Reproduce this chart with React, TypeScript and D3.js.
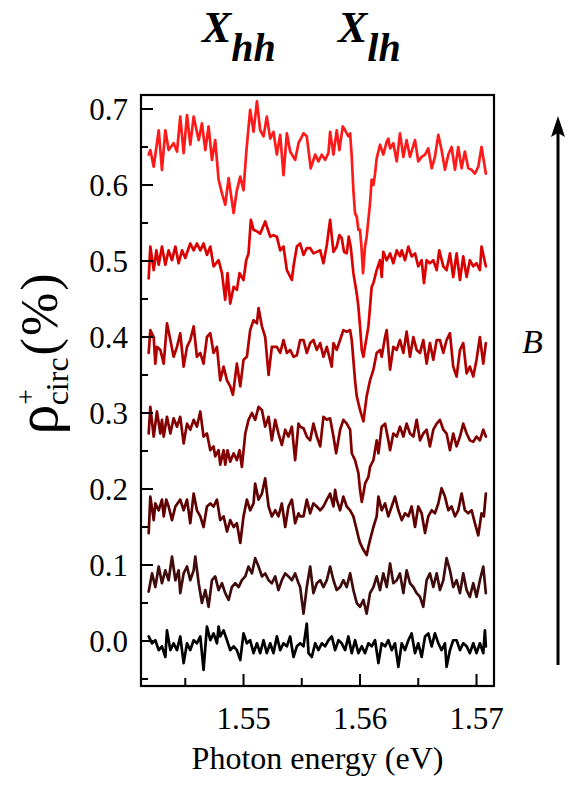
import React from 'react';
import * as d3 from 'd3';

// ---- traces: photon energy (eV) and rho_circ (%) ----
// zero field (bottom, black)
const energy0 = [
  1.54186, 1.54215, 1.54243, 1.54272, 1.543, 1.54329, 1.54343, 1.54372, 1.544, 1.54429,
  1.54457, 1.54486, 1.54515, 1.54543, 1.54572, 1.546, 1.54629, 1.54657, 1.54686, 1.54715,
  1.54743, 1.54772, 1.54786, 1.548, 1.54829, 1.54858, 1.54886, 1.54915, 1.54943, 1.54972,
  1.55, 1.55029, 1.55057, 1.55086, 1.55115, 1.55143, 1.55172, 1.552, 1.55229, 1.55257,
  1.55286, 1.55315, 1.55343, 1.55372, 1.554, 1.55429, 1.55458, 1.55486,
  1.55515, 1.55543, 1.55558, 1.55586, 1.55615, 1.55643, 1.55672, 1.557, 1.55729, 1.55758,
  1.55786, 1.55815, 1.55843, 1.55872, 1.559, 1.55929, 1.55958, 1.55986, 1.56015, 1.56043,
  1.56072, 1.561, 1.56129, 1.56158, 1.56186, 1.56215, 1.56243, 1.56272, 1.563, 1.56329,
  1.56358, 1.56386, 1.56415, 1.56443, 1.56472, 1.565, 1.56529, 1.56558, 1.56586, 1.56615,
  1.56643, 1.56672, 1.567, 1.56729, 1.56743, 1.56772, 1.568, 1.56829, 1.56858, 1.56886,
  1.56915, 1.56943, 1.56972, 1.57, 1.57029, 1.57058, 1.57072, 1.5708,
];
const rho0 = [
  0.006, -0.003, 0.001, -0.012, -0.007, -0.021, 0.014, -0.012, -0.003, -0.012,
  0.006, -0.029, -0.003, -0.012, 0.001, -0.003, 0.006, -0.038, 0.019, 0.001,
  0.01, -0.003, 0.019, 0.006, 0.014, 0.001, -0.012, -0.007, -0.012, -0.025,
  0.01, -0.003, 0.001, -0.016, -0.003, -0.016, 0.001, -0.016, -0.003, -0.016,
  0.006, -0.012, -0.003, -0.007, 0.006, -0.021, -0.007, -0.003,
  -0.007, 0.023, -0.016, -0.021, -0.003, -0.012, -0.003, -0.007, 0.001, 0.006,
  -0.012, 0.001, -0.003, -0.012, 0.006, -0.016, 0.001, -0.016, -0.007, -0.016,
  -0.003, -0.007, 0.001, -0.029, -0.003, -0.007, 0.001, -0.012, -0.003, -0.034,
  -0.003, -0.012, 0.001, 0.01, -0.016, -0.003, -0.021, 0.006, 0.01, -0.007,
  0.01, -0.003, -0.012, -0.003, -0.034, -0.012, 0.001, 0.001, -0.012, -0.003,
  -0.007, -0.016, -0.003, -0.016, -0.003, -0.016, 0.014, -0.007,
];

const energy1 = [
  1.54186, 1.54215, 1.54243, 1.54272, 1.543, 1.54329, 1.54357, 1.54386, 1.54415, 1.54443,
  1.54457, 1.54486, 1.54515, 1.54543, 1.54572, 1.54586, 1.54615, 1.54643, 1.54672, 1.547,
  1.54729, 1.54757, 1.54786, 1.54815, 1.54843, 1.54872, 1.549, 1.54929, 1.54958, 1.54986,
  1.55015, 1.55043, 1.55072, 1.551, 1.55129, 1.55158, 1.55186, 1.55215, 1.55243, 1.55272,
  1.553, 1.55329, 1.55358, 1.55386, 1.55415, 1.55443, 1.55472, 1.55486,
  1.55515, 1.55543, 1.55572, 1.556, 1.55629, 1.55658, 1.55686, 1.55715, 1.55743, 1.55772,
  1.558, 1.55829, 1.55857, 1.55886, 1.55915, 1.55943, 1.55972, 1.56, 1.56029, 1.56057,
  1.56086, 1.56115, 1.56143, 1.56172, 1.562, 1.56229, 1.56258, 1.56286, 1.56315, 1.56343,
  1.56372, 1.564, 1.56429, 1.56458, 1.56486, 1.56515, 1.56543, 1.56572, 1.566, 1.56629,
  1.56658, 1.56686, 1.56715, 1.56743, 1.56772, 1.568, 1.56829, 1.56858, 1.56886, 1.56915,
  1.56943, 1.56972, 1.57, 1.57029, 1.57058, 1.5708,
];
const rho1 = [
  0.065, 0.089, 0.071, 0.098, 0.076, 0.093, 0.08, 0.111, 0.08, 0.093,
  0.063, 0.089, 0.098, 0.08, 0.093, 0.111, 0.076, 0.05, 0.067, 0.045,
  0.08, 0.085, 0.067, 0.076, 0.063, 0.054, 0.071, 0.076, 0.071, 0.08,
  0.085, 0.098, 0.089, 0.109, 0.098, 0.085, 0.089, 0.08, 0.076, 0.085,
  0.067, 0.08, 0.089, 0.085, 0.08, 0.089, 0.076, 0.071,
  0.036, 0.071, 0.098, 0.063, 0.076, 0.08, 0.071, 0.08, 0.098, 0.08,
  0.067, 0.071, 0.08, 0.071, 0.089, 0.067, 0.05, 0.045, 0.054, 0.036,
  0.063, 0.071, 0.085, 0.067, 0.089, 0.071, 0.102, 0.076, 0.08, 0.089,
  0.063, 0.093, 0.076, 0.071, 0.063, 0.058, 0.045, 0.08, 0.089, 0.071,
  0.089, 0.067, 0.08, 0.109, 0.093, 0.071, 0.08, 0.063, 0.089, 0.067,
  0.058, 0.076, 0.058, 0.08, 0.098, 0.063,
];

const energy2 = [
  1.54186, 1.542, 1.54229, 1.54243, 1.54272, 1.543, 1.54315, 1.54337, 1.54357, 1.54386,
  1.54415, 1.54457, 1.54486, 1.54515, 1.54543, 1.54572, 1.546, 1.54629, 1.54657, 1.54686,
  1.54715, 1.54743, 1.54772, 1.548, 1.54829, 1.54858, 1.54886, 1.54915, 1.54943, 1.54972,
  1.55, 1.55029, 1.55057, 1.55086, 1.551, 1.55129, 1.55158, 1.55186, 1.55215, 1.55243,
  1.55272, 1.553, 1.55329, 1.55358, 1.55386, 1.55415, 1.55443, 1.55472, 1.55486,
  1.55515, 1.55543, 1.55572, 1.556, 1.55629, 1.55658, 1.55686, 1.55715, 1.55743, 1.55772,
  1.55786, 1.558, 1.55829, 1.55857, 1.55886, 1.55915, 1.55943, 1.55972, 1.55986, 1.56,
  1.56029, 1.56057, 1.56072, 1.56086, 1.56115, 1.56143, 1.56158, 1.56186, 1.56215, 1.56243,
  1.56272, 1.563, 1.56329, 1.56358, 1.56386, 1.56415, 1.56443, 1.56472, 1.565, 1.56529,
  1.56558, 1.56586, 1.56615, 1.56643, 1.56672, 1.567, 1.56729, 1.56758, 1.56786, 1.56815,
  1.56843, 1.56872, 1.569, 1.56929, 1.56958, 1.56986, 1.57015, 1.57043, 1.57063, 1.5708,
];
const rho2 = [
  0.142, 0.19, 0.159, 0.181, 0.172, 0.186, 0.164, 0.186, 0.177, 0.159,
  0.177, 0.186, 0.172, 0.186, 0.155, 0.194, 0.172, 0.164, 0.15, 0.177,
  0.181, 0.177, 0.186, 0.159, 0.164, 0.144, 0.159, 0.15, 0.155, 0.129,
  0.164, 0.186, 0.172, 0.181, 0.207, 0.186, 0.194, 0.214, 0.177, 0.164,
  0.172, 0.164, 0.181, 0.15, 0.177, 0.186, 0.155, 0.168, 0.164,
  0.164, 0.186, 0.168, 0.181, 0.177, 0.172, 0.177, 0.186, 0.194, 0.177,
  0.199, 0.186, 0.172, 0.19, 0.177, 0.172, 0.164, 0.146, 0.137, 0.129,
  0.12, 0.113, 0.124, 0.133, 0.15, 0.164, 0.19, 0.172, 0.181, 0.164,
  0.177, 0.19, 0.172, 0.159, 0.168, 0.164, 0.177, 0.15, 0.177, 0.168,
  0.142, 0.164, 0.172, 0.168, 0.181, 0.201, 0.19, 0.172, 0.177, 0.164,
  0.172, 0.194, 0.172, 0.168, 0.172, 0.155, 0.139, 0.168, 0.164, 0.194,
];

const energy3 = [
  1.54186, 1.542, 1.54229, 1.54257, 1.54286, 1.543, 1.54315, 1.54343, 1.54372, 1.544,
  1.54429, 1.54457, 1.54486, 1.54515, 1.54543, 1.54572, 1.546, 1.54629, 1.54657, 1.54686,
  1.54715, 1.54743, 1.54757, 1.54786, 1.548, 1.54829, 1.54843, 1.54863, 1.54886, 1.54915,
  1.54943, 1.54966, 1.54986, 1.55015, 1.55043, 1.55072, 1.551, 1.55129, 1.55158, 1.55186,
  1.55215, 1.55243, 1.55272, 1.553, 1.55329, 1.55358, 1.55386, 1.55415, 1.55443, 1.55472,
  1.55486,
  1.55515, 1.55543, 1.55572, 1.556, 1.55629, 1.55658, 1.55686, 1.55715, 1.55743, 1.55772,
  1.55795, 1.55829, 1.55857, 1.55886, 1.55915, 1.55929, 1.55957, 1.55986, 1.56, 1.56015,
  1.56029, 1.56043, 1.56072, 1.56086, 1.56115, 1.56143, 1.56158, 1.56186, 1.56215, 1.56243,
  1.56258, 1.56286, 1.56315, 1.56343, 1.56372, 1.564, 1.56429, 1.56458, 1.56486, 1.56515,
  1.56543, 1.56572, 1.566, 1.56629, 1.56658, 1.56686, 1.56715, 1.56743, 1.56772, 1.568,
  1.56829, 1.56858, 1.56886, 1.56915, 1.56943, 1.56972, 1.57, 1.57029, 1.57058, 1.5708,
];
const rho3 = [
  0.273, 0.308, 0.269, 0.302, 0.273, 0.291, 0.269, 0.295, 0.273, 0.293,
  0.282, 0.295, 0.26, 0.286, 0.278, 0.291, 0.282, 0.302, 0.269, 0.273,
  0.251, 0.256, 0.243, 0.251, 0.232, 0.251, 0.232, 0.251, 0.236, 0.247,
  0.238, 0.251, 0.229, 0.273, 0.291, 0.3, 0.291, 0.308, 0.304, 0.282,
  0.295, 0.264, 0.291, 0.273, 0.258, 0.278, 0.269, 0.282, 0.238, 0.286,
  0.282,
  0.28, 0.269, 0.264, 0.286, 0.269, 0.256, 0.295, 0.291, 0.293, 0.269,
  0.247, 0.278, 0.291, 0.286, 0.278, 0.247, 0.238, 0.221, 0.199, 0.183,
  0.194, 0.207, 0.216, 0.229, 0.238, 0.264, 0.247, 0.282, 0.286, 0.264,
  0.251, 0.273, 0.269, 0.282, 0.269, 0.286, 0.273, 0.269, 0.291, 0.264,
  0.273, 0.278, 0.256, 0.278, 0.286, 0.291, 0.278, 0.273, 0.251, 0.273,
  0.256, 0.269, 0.286, 0.273, 0.264, 0.262, 0.269, 0.264, 0.278, 0.269,
];

const energy4 = [
  1.54186, 1.542, 1.54229, 1.54243, 1.54257, 1.54286, 1.54315, 1.54343, 1.54372, 1.544,
  1.54429, 1.54457, 1.54486, 1.54515, 1.54543, 1.54572, 1.546, 1.54629, 1.54657, 1.54686,
  1.54715, 1.54743, 1.54772, 1.548, 1.54829, 1.54858, 1.54886, 1.54909, 1.54943, 1.54972,
  1.55, 1.55029, 1.55057, 1.55086, 1.55115, 1.55129, 1.55158, 1.55186, 1.55215, 1.55243,
  1.55286, 1.55315, 1.55343, 1.55372, 1.554, 1.55429, 1.55458, 1.55486,
  1.55515, 1.55543, 1.55572, 1.556, 1.55629, 1.55658, 1.55686, 1.55715, 1.55757, 1.55772,
  1.558, 1.55829, 1.55857, 1.55886, 1.55915, 1.55929, 1.55943, 1.55957, 1.55972, 1.56,
  1.56029, 1.56057, 1.56086, 1.56115, 1.56143, 1.56172, 1.56186, 1.56215, 1.56229, 1.56258,
  1.56286, 1.56315, 1.56343, 1.56372, 1.564, 1.56429, 1.56458, 1.56486, 1.56515, 1.56543,
  1.56572, 1.566, 1.56629, 1.56658, 1.56686, 1.56715, 1.56743, 1.56772, 1.568, 1.56829,
  1.56858, 1.56886, 1.56915, 1.56943, 1.56972, 1.57, 1.57029, 1.57058, 1.5708,
];
const rho4 = [
  0.379, 0.409, 0.4, 0.365, 0.387, 0.383, 0.365, 0.418, 0.396, 0.374,
  0.387, 0.405, 0.361, 0.387, 0.396, 0.414, 0.374, 0.379, 0.365, 0.4,
  0.405, 0.379, 0.387, 0.343, 0.361, 0.343, 0.335, 0.324, 0.365, 0.335,
  0.37, 0.374, 0.409, 0.422, 0.418, 0.438, 0.414, 0.4, 0.35, 0.387,
  0.387, 0.379, 0.396, 0.379, 0.383, 0.374, 0.376, 0.396,
  0.396, 0.379, 0.392, 0.396, 0.383, 0.392, 0.374, 0.387, 0.361, 0.392,
  0.383, 0.396, 0.409, 0.407, 0.409, 0.396, 0.37, 0.343, 0.322, 0.304,
  0.289, 0.322, 0.343, 0.357, 0.379, 0.383, 0.374, 0.4, 0.409, 0.357,
  0.387, 0.383, 0.396, 0.379, 0.407, 0.374, 0.4, 0.383, 0.379, 0.396,
  0.365, 0.392, 0.37, 0.396, 0.396, 0.379, 0.396, 0.405, 0.361, 0.348,
  0.383, 0.392, 0.352, 0.361, 0.348, 0.37, 0.4, 0.365, 0.392,
];

const energy5 = [
  1.54186, 1.542, 1.54229, 1.54252, 1.54272, 1.543, 1.54329, 1.54357, 1.54386, 1.54415,
  1.54443, 1.54472, 1.545, 1.54543, 1.54572, 1.546, 1.54629, 1.54657, 1.54686, 1.54715,
  1.54743, 1.54786, 1.54815, 1.54843, 1.54863, 1.54886, 1.54915, 1.54943, 1.54966, 1.55,
  1.55023, 1.55043, 1.55063, 1.55086, 1.55115, 1.55143, 1.55186, 1.55229, 1.55257, 1.55286,
  1.55315, 1.55343, 1.55372, 1.55415, 1.55429, 1.55458, 1.55486,
  1.55515, 1.55543, 1.55572, 1.556, 1.55629, 1.55658, 1.55686, 1.55715, 1.55743, 1.55772,
  1.558, 1.55823, 1.55843, 1.55863, 1.55886, 1.55903, 1.5592, 1.55943, 1.55972, 1.55986,
  1.56, 1.56015, 1.56029, 1.56043, 1.56057, 1.56072, 1.56086, 1.561, 1.56115, 1.56143,
  1.56172, 1.56186, 1.562, 1.56229, 1.56258, 1.56286, 1.56315, 1.56343, 1.56358, 1.56386,
  1.56415, 1.56443, 1.56472, 1.565, 1.56529, 1.56549, 1.56572, 1.566, 1.56629, 1.56658,
  1.5668, 1.56715, 1.56743, 1.56772, 1.568, 1.56829, 1.56858, 1.56886, 1.56915, 1.56943,
  1.56972, 1.57, 1.57029, 1.57043, 1.5708,
];
const rho5 = [
  0.477, 0.519, 0.488, 0.514, 0.495, 0.519, 0.495, 0.514, 0.501, 0.519,
  0.497, 0.514, 0.504, 0.523, 0.514, 0.523, 0.514, 0.523, 0.508, 0.519,
  0.493, 0.501, 0.484, 0.449, 0.484, 0.444, 0.466, 0.462, 0.484, 0.475,
  0.501, 0.51, 0.554, 0.541, 0.539, 0.536, 0.552, 0.532, 0.534, 0.532,
  0.514, 0.519, 0.488, 0.475, 0.493, 0.519, 0.523,
  0.508, 0.517, 0.517, 0.51, 0.512, 0.514, 0.497, 0.521, 0.554, 0.512,
  0.519, 0.534, 0.53, 0.512, 0.51, 0.532, 0.519, 0.484, 0.457, 0.44,
  0.414, 0.383, 0.374, 0.387, 0.4, 0.414, 0.44, 0.466, 0.471, 0.488,
  0.501, 0.479, 0.512, 0.501, 0.51, 0.497, 0.514, 0.506, 0.514, 0.501,
  0.519, 0.506, 0.51, 0.493, 0.501, 0.471, 0.501, 0.497, 0.501, 0.488,
  0.514, 0.493, 0.488, 0.51, 0.479, 0.51, 0.475, 0.506, 0.479, 0.501,
  0.493, 0.497, 0.488, 0.519, 0.493,
];

// highest field (top, bright red)
const energy6 = [
  1.54186, 1.542, 1.54229, 1.54272, 1.543, 1.54329, 1.54357, 1.544, 1.54429, 1.54457,
  1.54486, 1.54515, 1.54543, 1.54572, 1.54615, 1.54643, 1.54672, 1.547, 1.54729, 1.54757,
  1.54786, 1.54815, 1.54843, 1.54872, 1.54915, 1.54943, 1.54972, 1.55, 1.55023, 1.55057,
  1.55086, 1.55115, 1.55143, 1.55172, 1.552, 1.55229, 1.55257, 1.55286, 1.55315, 1.55343,
  1.55372, 1.554, 1.55443, 1.55472, 1.55515, 1.55543, 1.55577, 1.55615, 1.55643,
  1.55672, 1.557, 1.55729, 1.55743, 1.55772, 1.558, 1.55823, 1.55852, 1.55872, 1.559,
  1.55915, 1.55929, 1.55943, 1.55957, 1.55972, 1.55986, 1.56, 1.56012, 1.56026, 1.56043,
  1.56057, 1.56086, 1.561, 1.56115, 1.56129, 1.56143, 1.56172, 1.562, 1.56229, 1.56243,
  1.56258, 1.56286, 1.56315, 1.56343, 1.56372, 1.564, 1.56429, 1.56472, 1.565, 1.56529,
  1.56558, 1.56586, 1.56615, 1.56643, 1.56672, 1.567, 1.56729, 1.56758, 1.56786, 1.56815,
  1.56843, 1.56872, 1.569, 1.56929, 1.56958, 1.56986, 1.57015, 1.57043, 1.5708,
];
const rho6 = [
  0.64, 0.646, 0.624, 0.672, 0.62, 0.672, 0.646, 0.655, 0.644, 0.69,
  0.642, 0.692, 0.653, 0.69, 0.659, 0.681, 0.646, 0.677, 0.633, 0.659,
  0.607, 0.589, 0.574, 0.609, 0.563, 0.593, 0.611, 0.593, 0.642, 0.699,
  0.67, 0.71, 0.672, 0.664, 0.69, 0.661, 0.67, 0.64, 0.666, 0.613,
  0.668, 0.644, 0.633, 0.655, 0.668, 0.664, 0.622, 0.64, 0.631,
  0.64, 0.633, 0.642, 0.67, 0.64, 0.672, 0.646, 0.677, 0.672, 0.664,
  0.668, 0.637, 0.593, 0.563, 0.558, 0.541, 0.541, 0.519, 0.484, 0.519,
  0.532, 0.576, 0.607, 0.6, 0.615, 0.635, 0.653, 0.64, 0.657, 0.661,
  0.648, 0.655, 0.631, 0.668, 0.637, 0.659, 0.637, 0.659, 0.631, 0.637,
  0.64, 0.648, 0.622, 0.637, 0.666, 0.646, 0.62, 0.64, 0.65, 0.62,
  0.65, 0.622, 0.644, 0.622, 0.62, 0.615, 0.624, 0.65, 0.615,
];

const traceEnergies = [energy0, energy1, energy2, energy3, energy4, energy5, energy6];
const traceValues = [rho0, rho1, rho2, rho3, rho4, rho5, rho6];
const traceColors = ['#000000', '#3f0b0b', '#5e0000', '#820000', '#b00000', '#dc0000', '#ff1a1a'];

const yMajorTicks = [0, 0.1, 0.2, 0.3, 0.4, 0.5, 0.6, 0.7];
const yTickLabels = ['0.0', '0.1', '0.2', '0.3', '0.4', '0.5', '0.6', '0.7'];
const yMinorTicks = [-0.05, 0.05, 0.15, 0.25, 0.35, 0.45, 0.55, 0.65];
const xMajorTicks = [1.55, 1.56, 1.57];
const xTickLabels = ['1.55', '1.56', '1.57'];
const xMinorTicks = [1.545, 1.555, 1.565];

const FONT = "'Liberation Serif', 'Times New Roman', serif";

export default function App() {
  const W = 581;
  const H = 785;
  const left = 141, right = 494, top = 95, bottom = 686;
  const x = d3.scaleLinear().domain([1.5412, 1.5715]).range([left, right]);
  const y = d3.scaleLinear().domain([-0.0592, 0.7184]).range([bottom, top]);

  return (
    <svg
      width={W}
      height={H}
      style={{ position: 'absolute', left: 0, top: 0, background: '#fff' }}
      fontFamily={FONT}
    >
      <rect x={0} y={0} width={W} height={H} fill="#fff" />
      {traceValues.map((vals, k) => {
        const es = traceEnergies[k];
        const line = d3
          .line<number>()
          .x((_, i) => x(es[i]))
          .y((d) => y(d));
        return (
          <path
            key={k}
            d={line(vals) || ''}
            fill="none"
            stroke={traceColors[k]}
            strokeWidth={2.7}
            strokeLinejoin="round"
            strokeLinecap="round"
          />
        );
      })}
      {/* frame */}
      <rect x={left} y={top} width={right - left} height={bottom - top} fill="none" stroke="#000" strokeWidth={2.2} />
      {/* y ticks */}
      {yMajorTicks.map((v, i) => (
        <g key={'ym' + i}>
          <line x1={left} x2={left + 12} y1={y(v)} y2={y(v)} stroke="#000" strokeWidth={2} />
          <text x={128} y={y(v)} dy="0.35em" textAnchor="end" fontSize={31}>
            {yTickLabels[i]}
          </text>
        </g>
      ))}
      {yMinorTicks.map((v, i) => (
        <line key={'yn' + i} x1={left} x2={left + 7} y1={y(v)} y2={y(v)} stroke="#000" strokeWidth={2} />
      ))}
      {/* x ticks */}
      {xMajorTicks.map((v, i) => (
        <g key={'xm' + i}>
          <line x1={x(v)} x2={x(v)} y1={bottom} y2={bottom - 12} stroke="#000" strokeWidth={2} />
          <text x={x(v)} y={729} textAnchor="middle" fontSize={31}>
            {xTickLabels[i]}
          </text>
        </g>
      ))}
      {xMinorTicks.map((v, i) => (
        <line key={'xn' + i} x1={x(v)} x2={x(v)} y1={bottom} y2={bottom - 8} stroke="#000" strokeWidth={2} />
      ))}
      {/* axis titles */}
      <text x={(left + right) / 2} y={769} textAnchor="middle" fontSize={32}>
        Photon energy (eV)
      </text>
      <text transform="translate(57, 353) rotate(-90)" textAnchor="middle" fontSize={52}>
        <tspan fontSize={60}>ρ</tspan>
        <tspan dy={-22} fontSize={27}>+</tspan>
        <tspan dx={-16} dy={33} fontSize={32}>circ</tspan>
        <tspan dy={-11} dx={2} letterSpacing={2}>(%)</tspan>
      </text>
      {/* peak labels */}
      <text x={202} y={42} fontSize={44} fontWeight="bold" fontStyle="italic">
        X<tspan dy={19} fontSize={40}>hh</tspan>
      </text>
      <text x={338} y={42} fontSize={44} fontWeight="bold" fontStyle="italic">
        X<tspan dy={19} fontSize={40}>lh</tspan>
      </text>
      {/* field arrow */}
      <line x1={558} x2={558} y1={665} y2={130} stroke="#000" strokeWidth={3} />
      <path d="M558,116 L551,137 L558,133 L565,137 Z" fill="#000" />
      <text x={522} y={353} fontSize={34} fontStyle="italic">
        B
      </text>
    </svg>
  );
}
